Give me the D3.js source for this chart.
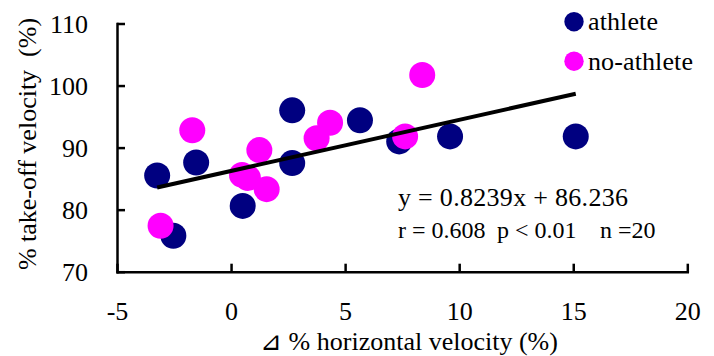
<!DOCTYPE html>
<html>
<head>
<meta charset="utf-8">
<script src="https://cdn.jsdelivr.net/npm/d3@7"></script>
</head>
<body style="margin:0">
<svg id="s" width="714" height="356"></svg>
<script>
// ---- data ----
const athleteX = [-3.24, -1.53, -2.53, 0.51, 2.68, 2.68, 5.65, 7.37, 9.60, 15.11];
const athleteY = [85.5, 87.6, 75.8, 80.6, 96.0, 87.5, 94.4, 91.0, 91.8, 91.8];
const noAthleteX = [-1.70, -3.09, 0.48, 0.74, 1.24, 1.56, 3.75, 4.34, 7.63, 8.38];
const noAthleteY = [92.8, 77.4, 85.6, 85.1, 89.6, 83.3, 91.5, 94.0, 91.8, 101.7];
const xTicks = [-5, 0, 5, 10, 15, 20];
const yTicks = [70, 80, 90, 100, 110];
const slope = 0.8239, intercept = 86.236;
const seriesNames = ["athlete", "no-athlete"];
const seriesColors = ["#000080", "#FF00FF"];
const eqLine1 = "y = 0.8239x + 86.236";
const eqLine2 = ["r = 0.608", "p < 0.01", "n =20"];
const xTitle = "⊿ % horizontal velocity (%)";
const yTitle = ["% take-off velocity", "(%)"];

// ---- layout ----
const svg = d3.select("#s");
const x = d3.scaleLinear().domain([-5, 20]).range([117, 687.3]);
const y = d3.scaleLinear().domain([70, 110]).range([271.7, 23.5]);
const fs = 26;
const ff = "Liberation Serif";

// axes
const xAxis = svg.append("g").attr("transform", `translate(0,${y(70)})`)
  .call(d3.axisBottom(x).tickValues(xTicks).tickSize(-8).tickSizeOuter(0).tickFormat(d => String(d)));
const yAxis = svg.append("g").attr("transform", `translate(${x(-5)},0)`)
  .call(d3.axisLeft(y).tickValues(yTicks).tickSize(-8).tickSizeOuter(0).tickFormat(d => String(d)));
[xAxis, yAxis].forEach(g => {
  g.attr("font-family", ff).attr("font-size", fs);
  g.select(".domain").attr("stroke", "#000").attr("stroke-width", 2.5).attr("stroke-linecap", "square");
  g.selectAll(".tick line").attr("stroke", "#000").attr("stroke-width", 2.5);
  g.selectAll(".tick text").attr("fill", "#000").attr("font-family", ff).attr("font-size", fs);
});
xAxis.selectAll(".tick text").attr("y", 48).attr("dy", 0);
yAxis.selectAll(".tick text").attr("x", -29).attr("dy", "0.34em");

// points
const athlete = athleteX.map((v, i) => ({x: v, y: athleteY[i]}));
const noAthlete = noAthleteX.map((v, i) => ({x: v, y: noAthleteY[i]}));
svg.append("g").selectAll("circle").data(athlete).join("circle")
  .attr("cx", d => x(d.x)).attr("cy", d => y(d.y)).attr("r", 13).attr("fill", seriesColors[0]);
svg.append("g").selectAll("circle").data(noAthlete).join("circle")
  .attr("cx", d => x(d.x)).attr("cy", d => y(d.y)).attr("r", 13).attr("fill", seriesColors[1]);

// regression line
const allX = athleteX.concat(noAthleteX);
const [xmin, xmax] = d3.extent(allX);
svg.append("line")
  .attr("x1", x(xmin)).attr("y1", y(slope * xmin + intercept))
  .attr("x2", x(xmax)).attr("y2", y(slope * xmax + intercept))
  .attr("stroke", "#000").attr("stroke-width", 4);

const T = (sel) => sel.attr("font-family", ff).attr("font-size", fs).attr("fill", "#000");

// equation text
T(svg.append("text").attr("x", 398).attr("y", 206)
  .attr("textLength", 230).attr("lengthAdjust", "spacing")).text(eqLine1);
const eq2X = [398, 497, 600];
eqLine2.forEach((t, i) => T(svg.append("text").attr("x", eq2X[i]).attr("y", 238)).attr("font-size", 24).text(t));

// legend
const legW = [70, 105];
seriesNames.forEach((name, i) => {
  svg.append("circle").attr("cx", 574).attr("cy", 21.7 + i * 39.5).attr("r", 9.7).attr("fill", seriesColors[i]);
  T(svg.append("text").attr("x", 588).attr("y", 30 + i * 39.5)
    .attr("textLength", legW[i]).attr("lengthAdjust", "spacing")).text(name);
});

// axis titles
T(svg.append("text").attr("x", 409).attr("y", 350).attr("text-anchor", "middle")).text(xTitle);
const yt = T(svg.append("text").attr("transform", "translate(36,144) rotate(-90)").attr("text-anchor", "middle"));
yt.append("tspan").text(yTitle[0]);
yt.append("tspan").attr("dx", 13).text(yTitle[1]);
</script>
</body>
</html>
